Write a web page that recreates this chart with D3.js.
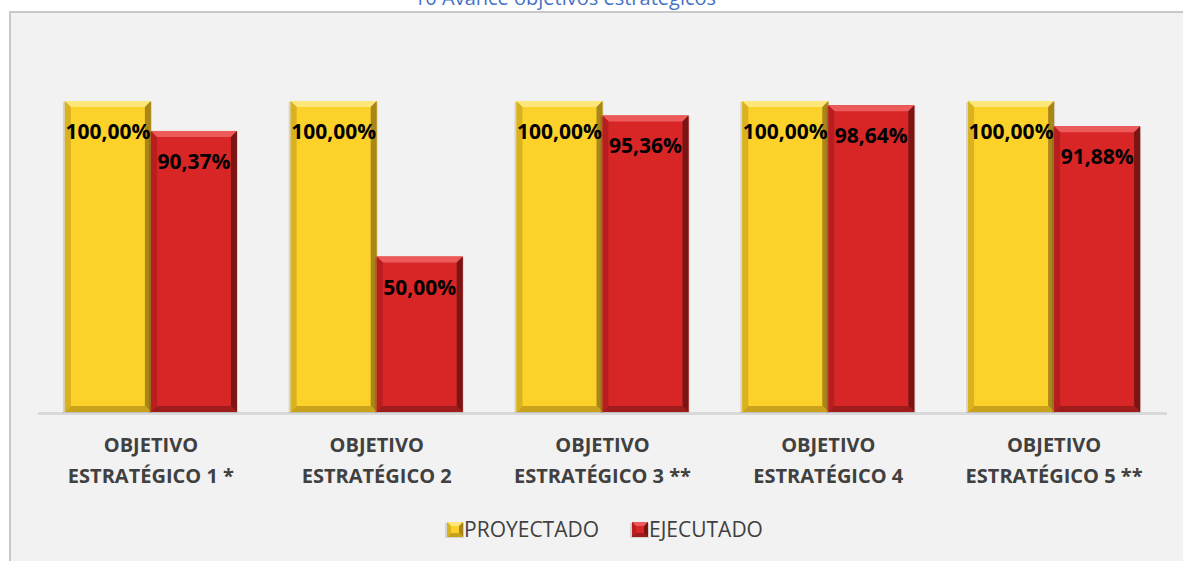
<!DOCTYPE html>
<meta charset="utf-8">
<style>
body { margin: 0; background: #fff; }
svg { display: block; font-family: "Open Sans", "Liberation Sans", sans-serif; }
.frame { fill: #f2f2f2; stroke: #c8c8c8; stroke-width: 2; }
.title { fill: #4472c4; font-size: 20px; }
.value { font-weight: bold; font-size: 21px; fill: #000; }
.cat { font-weight: bold; font-size: 20px; fill: #404040; }
.legend text { font-size: 21px; fill: #404040; }
</style>
<svg width="1183" height="561"></svg>
<script src="https://d3js.org/d3.v7.min.js"></script>
<script>

var categories = [
  ["OBJETIVO", "ESTRATÉGICO 1 *"],
  ["OBJETIVO", "ESTRATÉGICO 2"],
  ["OBJETIVO", "ESTRATÉGICO 3 **"],
  ["OBJETIVO", "ESTRATÉGICO 4"],
  ["OBJETIVO", "ESTRATÉGICO 5 **"]
];
var series = ["PROYECTADO", "EJECUTADO"];
var proyectado = [1.0, 1.0, 1.0, 1.0, 1.0];
var ejecutado = [0.9037, 0.5, 0.9536, 0.9864, 0.9188];
var title = "10 Avance objetivos estratégicos";

// colours for each series: face, top, left, right, bottom bevel
var palette = {
  PROYECTADO: { face: "#fcd12a", top: "#fee77a", left: "#d9b21f", right: "#a8861a", bottom: "#c9a21c" },
  EJECUTADO: { face: "#d82627", top: "#ec5a5a", left: "#b81e1f", right: "#7a1515", bottom: "#9e1c1c" }
};

var svg = d3.select("svg"),
    width = +svg.attr("width"),
    height = +svg.attr("height");

svg.append("rect")
    .attr("class", "frame")
    .attr("x", 10)
    .attr("y", 12)
    .attr("width", width + 20)
    .attr("height", height + 20);

svg.append("text")
    .attr("class", "title")
    .attr("x", 565)
    .attr("y", 5)
    .attr("text-anchor", "middle")
    .text(title);

var x0 = d3.scaleBand()
    .domain(d3.range(categories.length))
    .range([38, 1167])
    .paddingInner(0.238)
    .paddingOuter(0.119);

var x1 = d3.scaleBand()
    .domain(series)
    .range([0, x0.bandwidth()]);

var y = d3.scaleLinear()
    .domain([0, 1])
    .range([412, 101]);

var rows = categories.map(function(c, i) {
  return [
    { key: "PROYECTADO", value: proyectado[i] },
    { key: "EJECUTADO", value: ejecutado[i] }
  ];
});

// axis baseline
svg.append("line")
    .attr("x1", 38)
    .attr("x2", 1167)
    .attr("y1", y(0) + 1.5)
    .attr("y2", y(0) + 1.5)
    .attr("stroke", "#d9d9d9")
    .attr("stroke-width", 3);

function bevelBar(g, x, yTop, w, h, c, b) {
  var x2 = x + w, y2 = yTop + h;
  // soft shadow
  g.append("rect")
      .attr("x", x - 2).attr("y", yTop + 1)
      .attr("width", w + 3).attr("height", h)
      .attr("fill", "#000").attr("opacity", 0.12);
  g.append("rect")
      .attr("x", x).attr("y", yTop)
      .attr("width", w).attr("height", h)
      .attr("fill", c.face);
  g.append("polygon")
      .attr("points", [[x, yTop], [x2, yTop], [x2 - b, yTop + b], [x + b, yTop + b]].join(" "))
      .attr("fill", c.top);
  g.append("polygon")
      .attr("points", [[x, yTop], [x + b, yTop + b], [x + b, y2 - b], [x, y2]].join(" "))
      .attr("fill", c.left);
  g.append("polygon")
      .attr("points", [[x2, yTop], [x2, y2], [x2 - b, y2 - b], [x2 - b, yTop + b]].join(" "))
      .attr("fill", c.right);
  g.append("polygon")
      .attr("points", [[x, y2], [x2, y2], [x2 - b, y2 - b], [x + b, y2 - b]].join(" "))
      .attr("fill", c.bottom);
}

var groups = svg.selectAll(".group")
  .data(rows)
  .enter().append("g")
    .attr("class", "group")
    .attr("transform", function(d, i) { return "translate(" + x0(i) + ",0)"; });

groups.each(function(d) {
  var g = d3.select(this);
  d.forEach(function(p) {
    bevelBar(g, x1(p.key), y(p.value), x1.bandwidth(), y(0) - y(p.value), palette[p.key], 6);
  });
  g.selectAll(".value")
    .data(d)
    .enter().append("text")
      .attr("class", "value")
      .attr("x", function(p) { return x1(p.key) + x1.bandwidth() / 2; })
      .attr("y", function(p) { return y(p.value) + 38; })
      .attr("text-anchor", "middle")
      .text(function(p) { return (p.value * 100).toFixed(2).replace(".", ",") + "%"; });
});

// category labels
var catText = svg.selectAll(".cat")
  .data(categories)
  .enter().append("text")
    .attr("class", "cat")
    .attr("text-anchor", "middle");

catText.selectAll("tspan")
  .data(function(d) { return d; })
  .enter().append("tspan")
    .attr("x", function(d, j, nodes) {
      var i = categories.indexOf(d3.select(nodes[j].parentNode).datum());
      return x0(i) + x0.bandwidth() / 2;
    })
    .attr("y", function(d, j) { return 452 + j * 31; })
    .text(function(d) { return d; });

// legend
var legend = svg.append("g").attr("class", "legend");
var lx = 0;
series.forEach(function(s, i) {
  var item = legend.append("g").attr("transform", "translate(" + lx + ",0)");
  bevelBar(item, 0, 522, 16, 15, palette[s], 4);
  var t = item.append("text")
      .attr("x", 17)
      .attr("y", 537)
      .text(s);
  lx += 17 + t.node().getComputedTextLength() + 33;
});
var lw = legend.node().getBBox().width;
legend.attr("transform", "translate(" + (606 - lw / 2) + ",0)");

</script>
